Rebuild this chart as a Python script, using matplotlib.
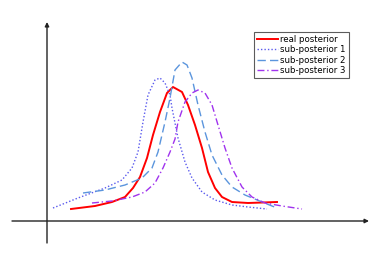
import matplotlib
matplotlib.use("Agg")
import matplotlib.pyplot as plt

# curve samples (x, height above the horizontal axis)
real_x = [71, 95, 112, 125, 133, 140, 147, 153, 160, 167, 173, 182, 188,
          195, 202, 208, 215, 222, 232, 248, 277]
real_y = [12, 15, 19, 24, 33, 44, 63, 86, 109, 128, 134, 129, 116,
          96, 73, 49, 33, 24, 19, 18, 19]

sub1_x = [53, 78, 105, 122, 132, 138, 143, 148, 155, 160, 165, 170, 172,
          178, 185, 192, 202, 215, 232, 248, 267]
sub1_y = [13, 23, 33, 41, 53, 69, 99, 126, 141, 143, 138, 126, 113,
          83, 59, 43, 29, 21, 16, 14, 12]

sub2_x = [83, 105, 125, 142, 152, 158, 165, 170, 175, 182, 187, 192, 198,
          205, 212, 222, 232, 245, 262, 277]
sub2_y = [28, 31, 36, 43, 53, 69, 99, 123, 151, 159, 156, 143, 116,
          89, 66, 46, 34, 26, 19, 13]

sub3_x = [92, 112, 132, 145, 155, 163, 170, 175, 178, 185, 192, 198, 205,
          212, 218, 225, 232, 242, 252, 265, 282, 302]
sub3_y = [18, 20, 24, 29, 38, 53, 69, 82, 99, 119, 128, 131, 128,
          116, 96, 73, 53, 34, 24, 18, 15, 12]

labels = ["real posterior", "sub-posterior 1", "sub-posterior 2", "sub-posterior 3"]

fig = plt.figure(figsize=(3.74, 2.80), dpi=100)
ax = fig.add_axes([0, 0, 1, 1])
ax.set_xlim(0, 374)
ax.set_ylim(-59, 221)
ax.axis("off")

ax.plot(real_x, real_y, color="#ff0000", lw=1.4, label=labels[0])
ax.plot(sub1_x, sub1_y, color="#5a5aee", lw=1.0, ls=(0, (1, 1.5)), label=labels[1])
ax.plot(sub2_x, sub2_y, color="#5b95dd", lw=1.0, ls=(0, (6, 3)), label=labels[2])
ax.plot(sub3_x, sub3_y, color="#a033ee", lw=1.0, ls=(0, (5, 2, 1, 2)), label=labels[3])

# axes drawn as arrows
ax.annotate("", xy=(369, 0), xytext=(12, 0),
            arrowprops=dict(arrowstyle="-|>", color="#222222", lw=1.0,
                            mutation_scale=6, shrinkA=0, shrinkB=0))
ax.annotate("", xy=(47, 199), xytext=(47, -22),
            arrowprops=dict(arrowstyle="-|>", color="#222222", lw=1.0,
                            mutation_scale=6, shrinkA=0, shrinkB=0))

leg = ax.legend(loc="upper left", bbox_to_anchor=(254 / 374, 1 - 32 / 280),
                fontsize=6.2, frameon=True, fancybox=False, handlelength=2.4,
                handletextpad=0.3, borderpad=0.35, labelspacing=0.15,
                borderaxespad=0)
leg.get_frame().set_edgecolor("#333333")
leg.get_frame().set_linewidth(0.8)

fig.savefig("out.png", dpi=100)
